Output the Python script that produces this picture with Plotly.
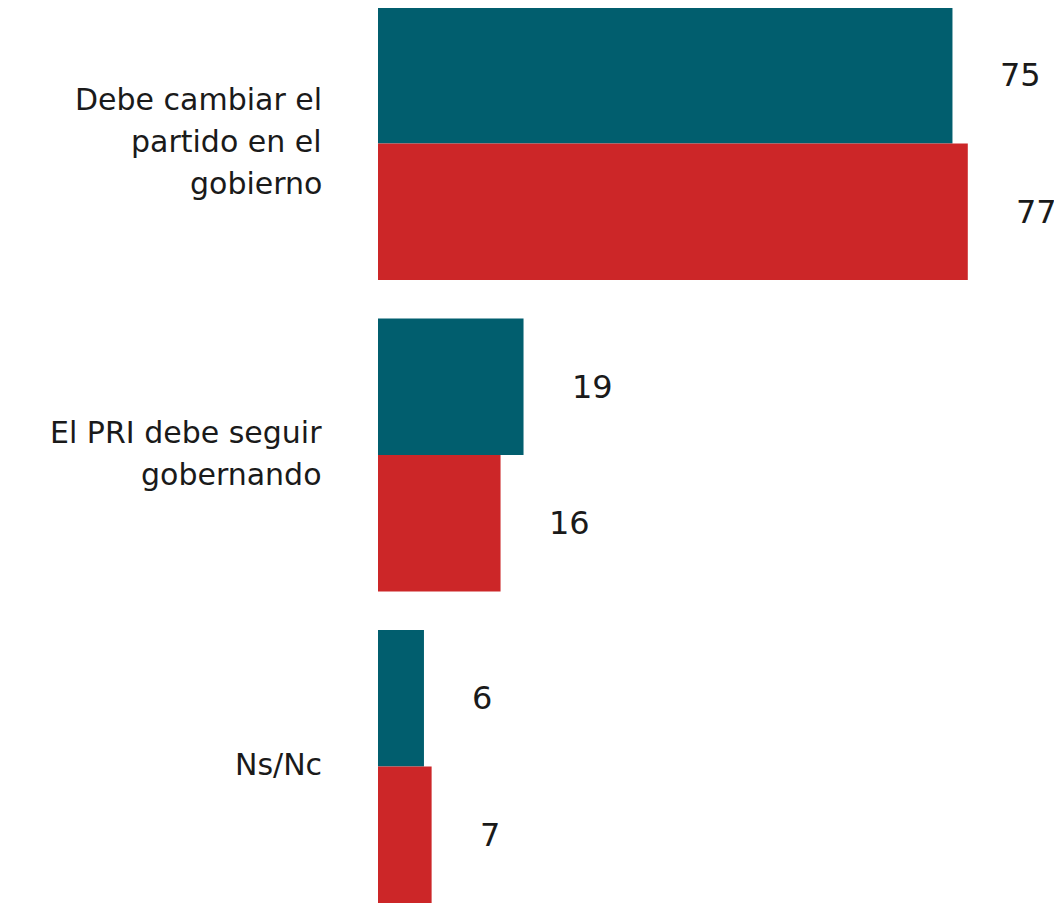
import plotly.graph_objects as go

categories = ["Debe cambiar el partido en el gobierno", "El PRI debe seguir gobernando", "Ns/Nc"]
category_lines = [["Debe cambiar el", "partido en el", "gobierno"], ["El PRI debe seguir", "gobernando"], ["Ns/Nc"]]
series_a = [75, 19, 6]
series_b = [77, 16, 7]
series_names = ["Serie 1", "Serie 2"]
colors = ["#015E6E", "#CC2628"]

FONT = "DejaVu Sans"
TXT = "#1a1a1a"

fig = go.Figure()
for name, vals, col in zip(series_names, [series_a, series_b], colors):
    fig.add_trace(go.Bar(y=categories, x=vals, orientation="h", name=name,
                         marker=dict(color=col, line=dict(width=0)), hoverinfo="x+y"))

annotations = []
bar_px = 136.5
for k, vals in enumerate([series_a, series_b]):
    shift = bar_px / 2 if k == 0 else -bar_px / 2
    for cat, v in zip(categories, vals):
        annotations.append(dict(x=v, y=cat, xref="x", yref="y", text=str(v), showarrow=False,
                                xanchor="left", yanchor="middle", xshift=46, yshift=shift,
                                font=dict(family=FONT, size=32, color=TXT)))
line_h = 42
for cat, lines in zip(categories, category_lines):
    n = len(lines)
    for i, ln in enumerate(lines):
        annotations.append(dict(x=0, y=cat, xref="paper", yref="y", text=ln, showarrow=False,
                                xanchor="right", yanchor="middle", xshift=-54,
                                yshift=((n - 1) / 2 - i) * line_h + 2,
                                font=dict(family=FONT, size=30, color=TXT)))

fig.update_layout(
    width=1054, height=900,
    margin=dict(l=370, r=0, t=0, b=0),
    barmode="group", bargap=0.1236, bargroupgap=0,
    plot_bgcolor="white", paper_bgcolor="white",
    showlegend=False,
    annotations=annotations,
    xaxis=dict(range=[0, 89.3], visible=False),
    yaxis=dict(categoryorder="array", categoryarray=categories, range=[2.4542, -0.435],
               showticklabels=False, showgrid=False, zeroline=False, showline=False, ticks=""),
)
fig.write_html("out.html")
